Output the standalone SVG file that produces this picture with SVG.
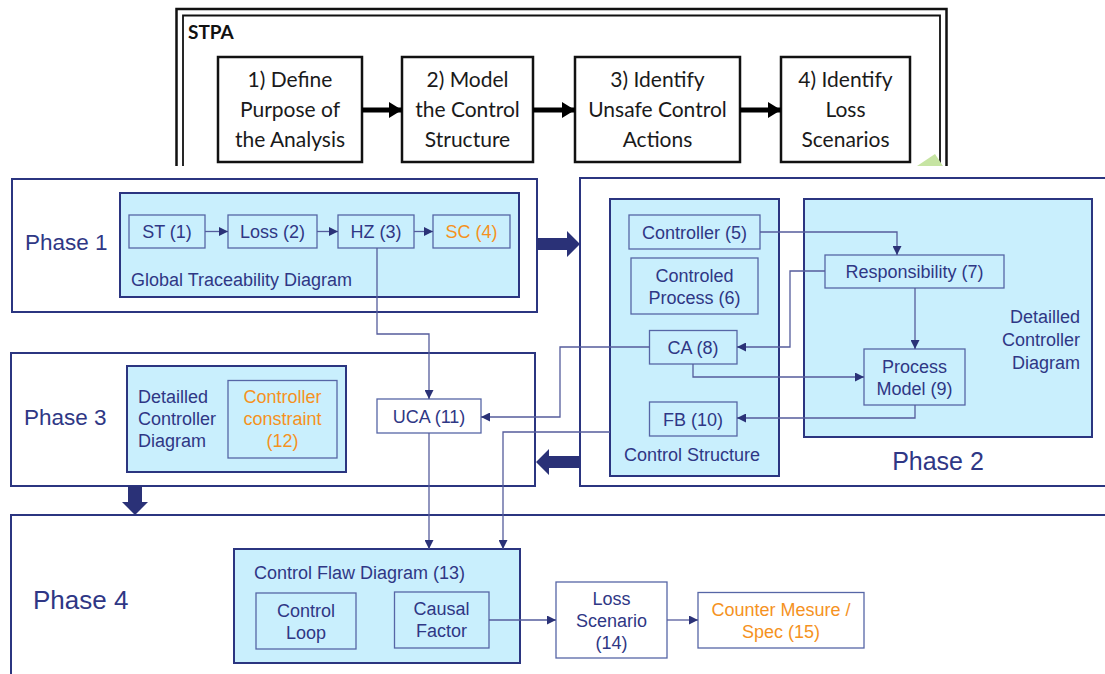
<svg xmlns="http://www.w3.org/2000/svg" width="1105" height="674" viewBox="0 0 1105 674">
  <defs>
    <marker id="tip" markerUnits="userSpaceOnUse" markerWidth="9" markerHeight="9" refX="9" refY="4.5" orient="auto">
      <path d="M0,0 L9,4.5 L0,9 z" fill="#2B3277"/>
    </marker>
    <marker id="tipBlack" markerUnits="userSpaceOnUse" markerWidth="14" markerHeight="16" refX="13" refY="8" orient="auto">
      <path d="M0,0 L13,8 L0,16 z" fill="#000"/>
    </marker>
  </defs>
  <style>
    .stpa-box { fill: #fff; stroke: #111; stroke-width: 2.5; }
    .stpa-txt { font-family: Lato, "Open Sans", sans-serif; font-size: 21px; fill: #1a1a1a; text-anchor: middle; }
    .phase { fill: #fff; stroke: #2B3580; stroke-width: 2; }
    .group { fill: #C9EFFD; stroke: #2B3580; stroke-width: 2; }
    .item { fill: #C9EFFD; stroke: #5666A6; stroke-width: 1.3; }
    .item-w { fill: #fff; stroke: #5666A6; stroke-width: 1.3; }
    .t { font-family: "Liberation Sans", Arial, sans-serif; font-size: 18px; fill: #2F3785; }
    .c { text-anchor: middle; }
    .o { fill: #F5921E; }
    .ph { font-family: "Liberation Sans", Arial, sans-serif; fill: #2F3785; }
    .link { fill: none; stroke: #555C9C; stroke-width: 1.3; }
    .big { fill: #2A3177; }
  </style>

  <!-- STPA process strip -->
  <g id="stpa">
    <path d="M176.5,166 V9 H946.5 V166" fill="none" stroke="#111" stroke-width="2.5"/>
    <path d="M183,166 V15.5 H940 V166" fill="none" stroke="#111" stroke-width="1.8"/>
    <polygon points="917,166 935,154 943,166" fill="#C6E4A2"/>
    <text x="188" y="39" font-family="Lato, 'Open Sans', sans-serif" font-size="19" font-weight="bold" fill="#111">STPA</text>
  </g>
  <g id="stpa-1">
    <rect class="stpa-box" x="218" y="57" width="144" height="105"/>
    <text class="stpa-txt" x="290" y="87">1) Define</text>
    <text class="stpa-txt" x="290" y="117">Purpose of</text>
    <text class="stpa-txt" x="290" y="147">the Analysis</text>
  </g>
  <g id="stpa-2">
    <rect class="stpa-box" x="402" y="57" width="131" height="105"/>
    <text class="stpa-txt" x="467.5" y="87">2) Model</text>
    <text class="stpa-txt" x="467.5" y="117">the Control</text>
    <text class="stpa-txt" x="467.5" y="147">Structure</text>
  </g>
  <g id="stpa-3">
    <rect class="stpa-box" x="575" y="57" width="165" height="105"/>
    <text class="stpa-txt" x="657.5" y="87">3) Identify</text>
    <text class="stpa-txt" x="657.5" y="117">Unsafe Control</text>
    <text class="stpa-txt" x="657.5" y="147">Actions</text>
  </g>
  <g id="stpa-4">
    <rect class="stpa-box" x="781" y="57" width="129" height="105"/>
    <text class="stpa-txt" x="845.5" y="87">4) Identify</text>
    <text class="stpa-txt" x="845.5" y="117">Loss</text>
    <text class="stpa-txt" x="845.5" y="147">Scenarios</text>
  </g>

  <!-- Phase containers -->
  <g id="phase4">
    <path class="phase" d="M11,674 V515 H1106"/>
    <text class="ph" x="33" y="609" font-size="26">Phase 4</text>
  </g>
  <g id="phase1">
    <rect class="phase" x="12" y="179" width="525" height="133"/>
    <text class="ph" x="25" y="250" font-size="22.5">Phase 1</text>
  </g>
  <g id="phase2">
    <path class="phase" d="M1106,178 H580 V486 H1106"/>
    <text class="ph" x="938" y="470" font-size="25" text-anchor="middle">Phase 2</text>
  </g>
  <g id="phase3">
    <rect class="phase" x="11" y="353" width="524" height="133"/>
    <text class="ph" x="24" y="425" font-size="22.5">Phase 3</text>
  </g>

  <!-- Phase 1 content -->
  <g id="global-traceability">
    <rect class="group" x="120" y="193" width="399" height="104"/>
    <text class="t" x="131" y="285.5" font-size="19.5">Global Traceability Diagram</text>
  </g>
  <g id="st1">
    <rect class="item" x="129" y="215" width="76" height="33"/>
    <text class="t c" x="167" y="238">ST (1)</text>
  </g>
  <g id="loss2">
    <rect class="item" x="228" y="215" width="89" height="33"/>
    <text class="t c" x="272.5" y="238">Loss (2)</text>
  </g>
  <g id="hz3">
    <rect class="item" x="338" y="215" width="76" height="33"/>
    <text class="t c" x="376" y="238">HZ (3)</text>
  </g>
  <g id="sc4">
    <rect class="item" x="433" y="215" width="77" height="33"/>
    <text class="t c o" x="471.5" y="238">SC (4)</text>
  </g>

  <!-- Phase 2 content -->
  <g id="control-structure">
    <rect class="group" x="610" y="199" width="169" height="277"/>
    <text class="t c" x="692" y="460.5">Control Structure</text>
  </g>
  <g id="detailed-controller">
    <rect class="group" x="804" y="199" width="288" height="238"/>
    <text class="t" x="1080" y="323" text-anchor="end" font-size="20.5">Detailled</text>
    <text class="t" x="1080" y="345.5" text-anchor="end" font-size="20.5">Controller</text>
    <text class="t" x="1080" y="369" text-anchor="end" font-size="20.5">Diagram</text>
  </g>
  <g id="controller5">
    <rect class="item" x="629" y="215" width="131" height="34"/>
    <text class="t c" x="694.5" y="238.5">Controller (5)</text>
  </g>
  <g id="process6">
    <rect class="item" x="631" y="258" width="127" height="56"/>
    <text class="t c" x="694.5" y="281.5">Controled</text>
    <text class="t c" x="694.5" y="303.5">Process (6)</text>
  </g>
  <g id="responsibility7">
    <rect class="item" x="825" y="255" width="179" height="33"/>
    <text class="t c" x="914.5" y="277.5">Responsibility (7)</text>
  </g>
  <g id="ca8">
    <rect class="item" x="649.5" y="330.5" width="87.5" height="33.5"/>
    <text class="t c" x="693" y="354" font-size="19">CA (8)</text>
  </g>
  <g id="model9">
    <rect class="item" x="864" y="349" width="101" height="56"/>
    <text class="t c" x="914.5" y="372.5">Process</text>
    <text class="t c" x="914.5" y="394.5">Model (9)</text>
  </g>
  <g id="fb10">
    <rect class="item" x="649.5" y="402" width="87.5" height="34"/>
    <text class="t c" x="693" y="425.5" font-size="19">FB (10)</text>
  </g>

  <!-- Phase 3 content -->
  <g id="controller-diagram">
    <rect class="group" x="127" y="366" width="219" height="106"/>
    <text class="t" x="138" y="402.5">Detailled</text>
    <text class="t" x="138" y="424.5">Controller</text>
    <text class="t" x="138" y="446.5">Diagram</text>
  </g>
  <g id="constraint12">
    <rect class="item" x="228" y="380.5" width="109" height="77.5"/>
    <text class="t c o" x="282.5" y="402.5">Controller</text>
    <text class="t c o" x="282.5" y="424.5">constraint</text>
    <text class="t c o" x="282.5" y="446.5">(12)</text>
  </g>
  <g id="uca11">
    <rect class="item-w" x="377" y="399" width="104" height="34"/>
    <text class="t c" x="429" y="422.5">UCA (11)</text>
  </g>

  <!-- Phase 4 content -->
  <g id="control-flaw">
    <rect class="group" x="234" y="549" width="286" height="114"/>
    <text class="t" x="254" y="579" font-size="19.5">Control Flaw Diagram (13)</text>
  </g>
  <g id="control-loop">
    <rect class="item" x="256" y="593" width="100" height="56"/>
    <text class="t c" x="306" y="616.5">Control</text>
    <text class="t c" x="306" y="638.5">Loop</text>
  </g>
  <g id="causal-factor">
    <rect class="item" x="394.5" y="592" width="94.5" height="56"/>
    <text class="t c" x="441.5" y="614.5">Causal</text>
    <text class="t c" x="441.5" y="637">Factor</text>
  </g>
  <g id="loss-scenario14">
    <rect class="item-w" x="556" y="582" width="111" height="76"/>
    <text class="t c" x="611.5" y="604.5">Loss</text>
    <text class="t c" x="611.5" y="626.5">Scenario</text>
    <text class="t c" x="611.5" y="648.5">(14)</text>
  </g>
  <g id="countermeasure15">
    <rect class="item-w" x="698" y="592.5" width="166" height="55.5"/>
    <text class="t c o" x="781" y="615.5">Counter Mesure /</text>
    <text class="t c o" x="781" y="637.5">Spec (15)</text>
  </g>

  <!-- Connectors -->
  <g id="connectors">
    <!-- STPA steps -->
    <line x1="362" y1="110" x2="402" y2="110" stroke="#000" stroke-width="5" marker-end="url(#tipBlack)"/>
    <line x1="533" y1="110" x2="575" y2="110" stroke="#000" stroke-width="5" marker-end="url(#tipBlack)"/>
    <line x1="740" y1="110" x2="781" y2="110" stroke="#000" stroke-width="5" marker-end="url(#tipBlack)"/>

    <!-- phase hand-overs -->
    <polygon class="big" points="537,238 567,238 567,231 580,244 567,257 567,250 537,250"/>
    <polygon class="big" points="580,456 549,456 549,449 536,462 549,475 549,468 580,468"/>
    <polygon class="big" points="128,486 142,486 142,502 148,502 135,515 122,502 128,502"/>

    <!-- phase 1 chain -->
    <path class="link" d="M205,231.5 H228" marker-end="url(#tip)"/>
    <path class="link" d="M317,231.5 H338" marker-end="url(#tip)"/>
    <path class="link" d="M414,231.5 H433" marker-end="url(#tip)"/>

    <!-- hazards to unsafe control actions -->
    <path class="link" d="M377,248 V334 H429 V399" marker-end="url(#tip)"/>

    <!-- phase 2 -->
    <path class="link" d="M760,232 H897 V255" marker-end="url(#tip)"/>
    <path class="link" d="M825,271 H790 V347 H737" marker-end="url(#tip)"/>
    <path class="link" d="M915,288 V349" marker-end="url(#tip)"/>
    <path class="link" d="M693,364 V377 H864" marker-end="url(#tip)"/>
    <path class="link" d="M915,405 V418 H737" marker-end="url(#tip)"/>

    <!-- into phase 3 and 4 -->
    <path class="link" d="M649.5,347 H560 V417 H481" marker-end="url(#tip)"/>
    <path class="link" d="M610,432 H503 V549" marker-end="url(#tip)"/>
    <path class="link" d="M429,433 V549" marker-end="url(#tip)"/>

    <!-- phase 4 chain -->
    <path class="link" d="M489,620 H556" stroke-width="2" marker-end="url(#tip)"/>
    <path class="link" d="M667,620 H698" stroke-width="2" marker-end="url(#tip)"/>
  </g>
</svg>
